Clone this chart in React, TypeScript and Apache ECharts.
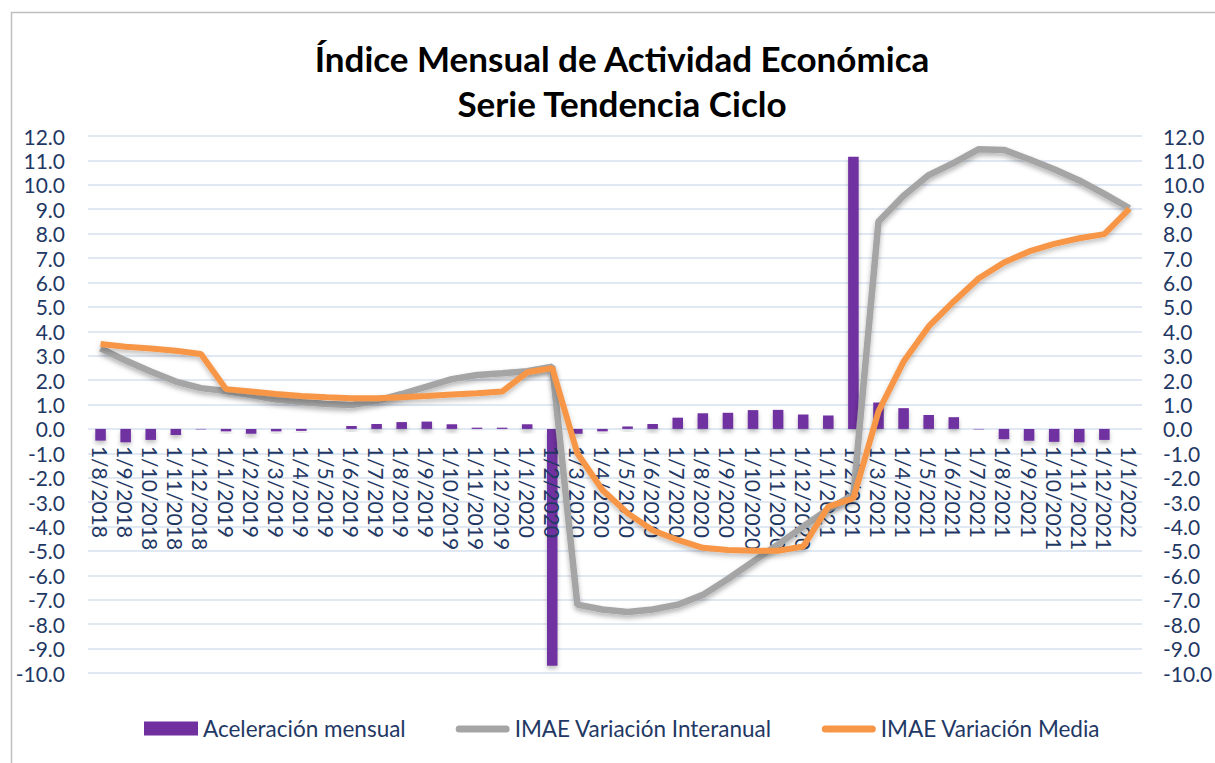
import React, { useEffect, useRef } from "react";
import * as echarts from "echarts";

const categories = [
  "1/8/2018", "1/9/2018", "1/10/2018", "1/11/2018", "1/12/2018",
  "1/1/2019", "1/2/2019", "1/3/2019", "1/4/2019", "1/5/2019", "1/6/2019",
  "1/7/2019", "1/8/2019", "1/9/2019", "1/10/2019", "1/11/2019", "1/12/2019",
  "1/1/2020", "1/2/2020", "1/3/2020", "1/4/2020", "1/5/2020", "1/6/2020",
  "1/7/2020", "1/8/2020", "1/9/2020", "1/10/2020", "1/11/2020", "1/12/2020",
  "1/1/2021", "1/2/2021", "1/3/2021", "1/4/2021", "1/5/2021", "1/6/2021",
  "1/7/2021", "1/8/2021", "1/9/2021", "1/10/2021", "1/11/2021", "1/12/2021",
  "1/1/2022",
];

const aceleracionMensual = [
  -0.48, -0.55, -0.45, -0.25, -0.02,
  -0.1, -0.2, -0.1, -0.08, 0.0, 0.12,
  0.2, 0.28, 0.3, 0.19, 0.05, 0.05,
  0.19, -9.7, -0.2, -0.1, 0.1, 0.2,
  0.46, 0.64, 0.66, 0.77, 0.78, 0.59,
  0.55, 11.15, 1.08, 0.85, 0.57, 0.48,
  -0.02, -0.42, -0.48, -0.53, -0.55, -0.45,
  null,
];

const variacionInteranual = [
  3.3, 2.8, 2.35, 1.94, 1.67,
  1.55, 1.39, 1.2, 1.1, 1.02, 0.98,
  1.15, 1.43, 1.73, 2.04, 2.21, 2.28,
  2.36, 2.55, -7.2, -7.4, -7.5, -7.4,
  -7.2, -6.8, -6.15, -5.44, -4.73, -4.0,
  -3.29, -2.7, 8.5, 9.55, 10.4, 10.9,
  11.46, 11.43, 11.05, 10.64, 10.18, 9.63,
  9.04,
];

const variacionMedia = [
  3.48, 3.37, 3.29, 3.2, 3.07,
  1.63, 1.53, 1.43, 1.35, 1.3, 1.26,
  1.26, 1.3, 1.35, 1.41, 1.46, 1.53,
  2.32, 2.49, -1.0, -2.5, -3.45, -4.15,
  -4.55, -4.87, -4.96, -4.99, -4.99, -4.82,
  -3.18, -2.84, 0.72, 2.76, 4.2, 5.22,
  6.17, 6.82, 7.27, 7.58, 7.81, 7.98,
  9.02,
];

const Y_MIN = -10;
const Y_MAX = 12;

const FONT = "Lato";
const TEXT_COLOR = "#1F3864";
const GRID_COLOR = "#D6E0F0";
const LINE_ICON =
  "path://M0,0L0.01,0M3.5,4H50.5A3.5,3.5,0,0,1,50.5,11H3.5A3.5,3.5,0,0,1,3.5,4ZM53.99,14L54,14";

const GRID_TOP = 136;
const GRID_BOTTOM = 90;
const CHART_H = 763;

export default function App() {
  const ref = useRef<HTMLDivElement>(null);

  useEffect(() => {
    if (!ref.current) return;
    const chart = echarts.init(ref.current, undefined, { renderer: "svg" });
    const plotH = CHART_H - GRID_TOP - GRID_BOTTOM;
    // move the category axis up to the zero line of the value axis
    const zeroOffset = -(plotH * (0 - Y_MIN)) / (Y_MAX - Y_MIN);
    const yAxisCommon = {
      type: "value",
      min: Y_MIN,
      max: Y_MAX,
      interval: 1,
      z: 0,
      axisLine: { show: false },
      axisTick: { show: false },
      splitLine: { show: true, lineStyle: { color: GRID_COLOR, width: 1.5 } },
    };
    chart.setOption({
      animation: false,
      backgroundColor: "#ffffff",
      title: {
        text: "Índice Mensual de Actividad Económica\nSerie Tendencia Ciclo",
        left: 617,
        top: 30,
        textAlign: "center",
        textStyle: {
          fontFamily: FONT,
          fontWeight: "bold",
          fontSize: 35,
          lineHeight: 45,
          color: "#000000",
        },
      },
      legend: {
        left: 144,
        top: 717,
        padding: 0,
        itemWidth: 54,
        itemHeight: 14,
        itemGap: 50,
        textStyle: { fontFamily: FONT, fontSize: 22.5, color: TEXT_COLOR },
        data: [
          { name: "Aceleración mensual", icon: "rect" },
          { name: "IMAE Variación Interanual", icon: LINE_ICON },
          { name: "IMAE Variación Media", icon: LINE_ICON },
        ],
      },
      grid: {
        left: 88,
        right: 73,
        top: GRID_TOP,
        bottom: GRID_BOTTOM,
        containLabel: false,
        outerBoundsMode: "none",
      },
      xAxis: {
        type: "category",
        data: categories,
        boundaryGap: true,
        position: "bottom",
        offset: zeroOffset,
        z: 3,
        axisLine: { show: false, onZero: false },
        axisTick: { show: false },
        axisLabel: {
          interval: 0,
          rotate: -90,
          margin: 17,
          fontFamily: FONT,
          fontSize: 21,
          color: TEXT_COLOR,
        },
      },
      yAxis: [
        {
          ...yAxisCommon,
          position: "left",
          axisLabel: {
            margin: 23,
            fontFamily: FONT,
            fontSize: 21,
            color: TEXT_COLOR,
            formatter: (v: number) => v.toFixed(1),
          },
        },
        {
          ...yAxisCommon,
          position: "right",
          splitLine: { show: false },
          axisLabel: {
            margin: 21,
            fontFamily: FONT,
            fontSize: 21,
            color: TEXT_COLOR,
            formatter: (v: number) => v.toFixed(1),
          },
        },
      ],
      series: [
        {
          name: "Aceleración mensual",
          type: "bar",
          data: aceleracionMensual,
          barWidth: "42%",
          itemStyle: {
            color: "#7030A0",
            shadowColor: "rgba(0,0,0,0.25)",
            shadowBlur: 4,
            shadowOffsetY: 3,
          },
          z: 1,
        },
        {
          name: "IMAE Variación Interanual",
          type: "line",
          data: variacionInteranual,
          symbol: "none",
          itemStyle: { color: "#A5A5A5" },
          lineStyle: {
            color: "#A5A5A5",
            width: 6.5,
            shadowColor: "rgba(0,0,0,0.3)",
            shadowBlur: 5,
            shadowOffsetY: 3,
          },
          z: 5,
        },
        {
          name: "IMAE Variación Media",
          type: "line",
          data: variacionMedia,
          symbol: "none",
          itemStyle: { color: "#F79646" },
          lineStyle: {
            color: "#F79646",
            width: 6,
            shadowColor: "rgba(0,0,0,0.25)",
            shadowBlur: 5,
            shadowOffsetY: 3,
          },
          z: 6,
        },
      ],
      graphic: [
        {
          type: "rect",
          left: 9,
          top: 10,
          shape: { width: 1230, height: 780 },
          style: { fill: "none", stroke: "#BFBFBF", lineWidth: 1.5 },
          silent: true,
          z: -1,
        },
      ],
    });
    return () => chart.dispose();
  }, []);

  return (
    <div
      ref={ref}
      style={{ position: "absolute", left: 0, top: 0, width: 1215, height: 763 }}
    />
  );
}
